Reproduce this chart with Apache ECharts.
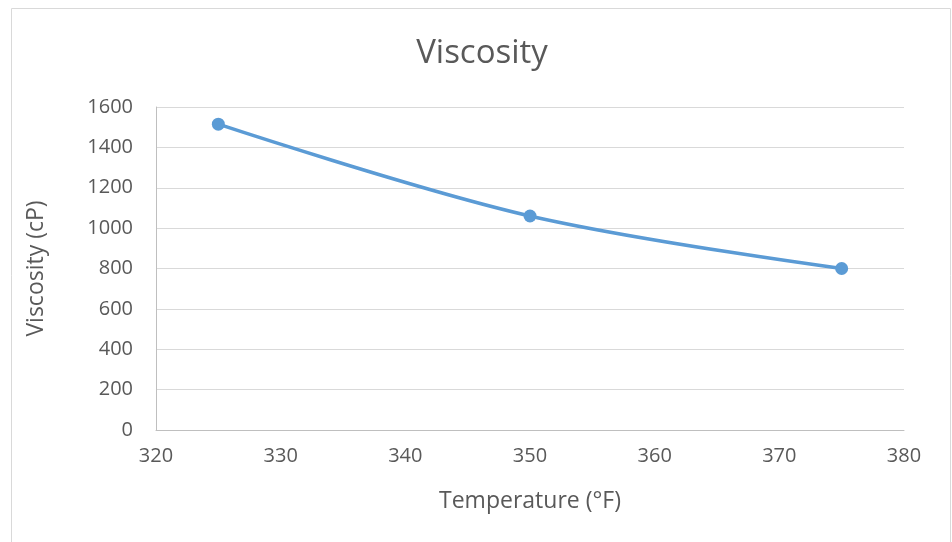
<!DOCTYPE html>
<html>
<head>
<meta charset="utf-8">
<script src="https://cdn.jsdelivr.net/npm/echarts@6/dist/echarts.min.js"></script>
<style>
  html, body { margin: 0; padding: 0; background: #fff; }
  #chart { width: 952px; height: 542px; }
</style>
</head>
<body>
<div id="chart"></div>
<script>
// data
var temperature = [325, 350, 375];
var viscosity = [1515, 1060, 800];

var points = temperature.map(function (t, i) { return [t, viscosity[i]]; });

var myChart = echarts.init(document.getElementById('chart'));
var textColor = '#595959';
var fontFam = '"Open Sans", "Noto Sans", sans-serif';

option = {
  animation: false,
  title: {
    text: 'Viscosity',
    left: 477,
    top: 32,
    textAlign: 'center',
    textStyle: { color: textColor, fontSize: 33, fontWeight: 'normal', fontFamily: fontFam }
  },
  graphic: [
    {
      type: 'rect',
      shape: { x: 11.5, y: 8.5, width: 939, height: 560 },
      style: { fill: 'none', stroke: '#d9d9d9', lineWidth: 1 },
      silent: true
    }
  ],
  grid: { left: 156, right: 48, top: 107, bottom: 112 },
  xAxis: {
    type: 'value',
    min: 320,
    max: 380,
    interval: 10,
    name: 'Temperature (°F)',
    nameLocation: 'middle',
    nameGap: 60,
    nameTextStyle: { color: textColor, fontSize: 23, fontFamily: fontFam },
    axisLine: { show: true, lineStyle: { color: '#bfbfbf', width: 1 } },
    axisTick: { show: false },
    splitLine: { show: false },
    axisLabel: { color: textColor, fontSize: 20, margin: 16, fontFamily: fontFam }
  },
  yAxis: {
    type: 'value',
    min: 0,
    max: 1600,
    interval: 200,
    name: 'Viscosity (cP)',
    nameLocation: 'middle',
    nameGap: 108,
    nameTextStyle: { color: textColor, fontSize: 23, fontFamily: fontFam },
    axisLine: { show: true, lineStyle: { color: '#bfbfbf', width: 1 } },
    axisTick: { show: false },
    splitLine: { lineStyle: { color: '#d9d9d9', width: 1 } },
    axisLabel: {
      color: textColor, fontSize: 20, margin: 23, fontFamily: fontFam,
      formatter: function (v) { return String(v); }
    }
  },
  series: [
    {
      type: 'line',
      data: points,
      smooth: 0.35,
      symbol: 'circle',
      symbolSize: 13,
      lineStyle: { color: '#5b9bd5', width: 3.5 },
      itemStyle: { color: '#5b9bd5' }
    }
  ]
};

myChart.setOption(option);
</script>
</body>
</html>
